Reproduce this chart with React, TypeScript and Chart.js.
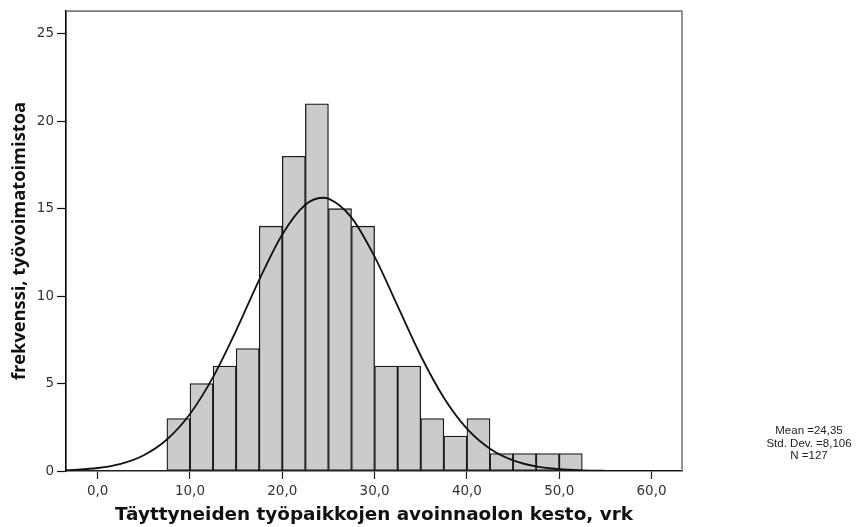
import React, { useEffect, useRef } from 'react';
import { Chart, registerables } from 'chart.js';

Chart.register(...registerables);

const BIN_WIDTH = 2.5;
const BIN_STARTS = [7.5, 10, 12.5, 15, 17.5, 20, 22.5, 25, 27.5, 30, 32.5, 35, 37.5, 40, 42.5, 45, 47.5, 50];
const COUNTS = [3, 5, 6, 7, 14, 18, 21, 15, 14, 6, 6, 3, 2, 3, 1, 1, 1, 1];

// normal curve (fitted curve: Mean 24,35, SD 8,106, N 127)
const CURVE_X = [-3.4, -2.5, 0, 2.5, 5, 7.5, 10, 12.5, 15, 17.5, 20, 22.5, 24.35, 25, 27.5, 30, 32.5, 35, 37.5, 40, 42.5, 45, 47.5, 50, 52.5, 55, 57.5, 60, 63.3];
const CURVE_Y = [0.045, 0.065, 0.172, 0.413, 0.905, 1.801, 3.261, 5.368, 8.034, 10.934, 13.53, 15.224, 15.626, 15.576, 14.49, 12.256, 9.427, 6.592, 4.192, 2.423, 1.274, 0.609, 0.265, 0.105, 0.038, 0.012, 0.004, 0.001, 0];

const X_TICKS = [0, 10, 20, 30, 40, 50, 60];
const Y_TICKS = [0, 5, 10, 15, 20, 25];
const X_MIN = -3.43;
const X_MAX = 63.3;
const Y_MAX = 26.3;

const STATS_LINES = ['Mean =24,35', 'Std. Dev. =8,106', 'N =127'];
const X_TITLE = 'Täyttyneiden työpaikkojen avoinnaolon kesto, vrk';
const Y_TITLE = 'frekvenssi, työvoimatoimistoa';

const W = 861;
const H = 527;

const framePlugin = {
  id: 'frameAndStats',
  afterDatasetsDraw(chart: any) {
    const { ctx, chartArea } = chart;
    ctx.save();
    ctx.strokeStyle = '#7a7a7a';
    ctx.lineWidth = 1.6;
    ctx.beginPath();
    ctx.moveTo(chartArea.left, chartArea.top);
    ctx.lineTo(chartArea.right, chartArea.top);
    ctx.lineTo(chartArea.right, chartArea.bottom);
    ctx.stroke();
    ctx.restore();
  },
  afterDraw(chart: any) {
    const { ctx } = chart;
    ctx.save();
    ctx.fillStyle = '#222';
    ctx.font = '11.5px "Liberation Sans", Arial, sans-serif';
    ctx.textAlign = 'center';
    ctx.textBaseline = 'middle';
    STATS_LINES.forEach((t, i) => {
      ctx.fillText(t, 809, 431 + i * 12.5);
    });
    ctx.restore();
  },
};

export default function App() {
  const ref = useRef<HTMLCanvasElement | null>(null);

  useEffect(() => {
    if (!ref.current) return;
    const barData = BIN_STARTS.map((s, i) => ({ x: s + BIN_WIDTH / 2, y: COUNTS[i] }));
    const curveData = CURVE_X.map((x, i) => ({ x, y: CURVE_Y[i] }));
    const chart = new Chart(ref.current, {
      type: 'bar',
      data: {
        datasets: [
          {
            type: 'line',
            data: curveData,
            borderColor: '#111',
            borderWidth: 1.8,
            pointRadius: 0,
            fill: false,
            cubicInterpolationMode: 'monotone',
            order: 0,
          } as any,
          {
            type: 'bar',
            data: barData,
            backgroundColor: '#cbcbcb',
            borderColor: '#1a1a1a',
            borderWidth: 1.3,
            borderSkipped: false,
            barPercentage: 1,
            categoryPercentage: 1,
            order: 1,
          } as any,
        ],
      },
      options: {
        animation: false,
        responsive: true,
        maintainAspectRatio: false,
        layout: { padding: { left: 0, right: W - 682, top: 8, bottom: 0 } },
        plugins: { legend: { display: false }, tooltip: { enabled: false } },
        scales: {
          x: {
            type: 'linear',
            min: X_MIN,
            max: X_MAX,
            bounds: 'data',
            offset: false,
            afterBuildTicks: (scale: any) => {
              scale.ticks = X_TICKS.map((v) => ({ value: v }));
            },
            afterFit: (scale: any) => {
              scale.height = H - 471;
            },
            grid: {
              offset: false,
              drawOnChartArea: false,
              drawTicks: true,
              tickLength: 8,
              tickColor: '#222',
              tickWidth: 1.2,
            },
            border: { display: true, color: '#222', width: 1.6 },
            ticks: {
              autoSkip: false,
              maxRotation: 0,
              padding: 4,
              color: '#333',
              font: { family: '"DejaVu Sans", sans-serif', size: 13.5 },
              callback: (v: any) => Number(v).toFixed(1).replace('.', ','),
            },
            title: {
              display: true,
              text: X_TITLE,
              color: '#111',
              font: { family: '"DejaVu Sans", sans-serif', size: 18.4, weight: 'bold' },
              padding: { top: 0, bottom: 1 },
            },
          },
          y: {
            type: 'linear',
            min: 0,
            max: Y_MAX,
            bounds: 'data',
            afterBuildTicks: (scale: any) => {
              scale.ticks = Y_TICKS.map((v) => ({ value: v }));
            },
            afterFit: (scale: any) => {
              scale.width = 66;
            },
            grid: {
              drawOnChartArea: false,
              drawTicks: true,
              tickLength: 9,
              tickColor: '#111',
              tickWidth: 1.2,
            },
            border: { display: true, color: '#000', width: 1.6 },
            ticks: {
              autoSkip: false,
              padding: 3,
              color: '#333',
              font: { family: '"DejaVu Sans", sans-serif', size: 13.5 },
              callback: (v: any) => String(v),
            },
            title: {
              display: true,
              text: Y_TITLE,
              color: '#111',
              font: { family: '"Open Sans", sans-serif', size: 18.3, weight: 'bold' },
              padding: { top: 9, bottom: 0 },
            },
          },
        },
      },
      plugins: [framePlugin],
    });
    return () => chart.destroy();
  }, []);

  return (
    <div style={{ position: 'absolute', left: 0, top: 0, width: W, height: H, background: '#fff' }}>
      <canvas ref={ref} />
    </div>
  );
}
